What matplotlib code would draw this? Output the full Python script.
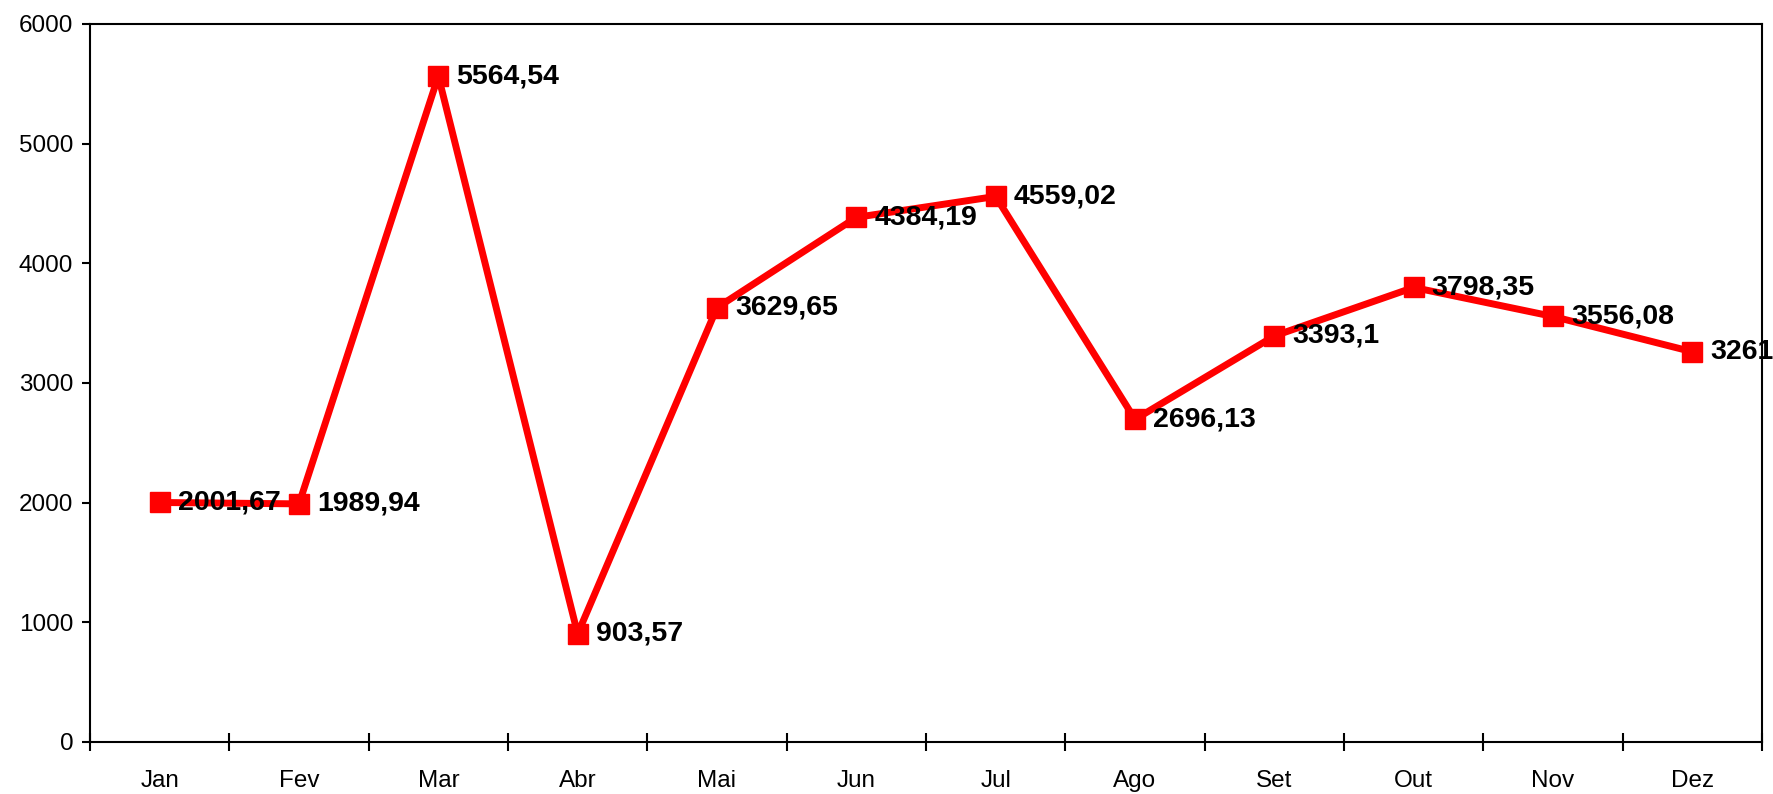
import matplotlib.pyplot as plt
import numpy as np

plt.rcParams['font.family'] = ['Liberation Sans', 'DejaVu Sans']

months = ['Jan', 'Fev', 'Mar', 'Abr', 'Mai', 'Jun', 'Jul', 'Ago', 'Set', 'Out', 'Nov', 'Dez']
values = [2001.67, 1989.94, 5564.54, 903.57, 3629.65, 4384.19, 4559.02, 2696.13, 3393.1, 3798.35, 3556.08, 3261]

def fmt(v):
    s = f"{v:.2f}".rstrip('0').rstrip('.')
    return s.replace('.', ',')

fig = plt.figure(figsize=(17.74, 7.94), dpi=100)
ax = fig.add_axes([90/1774, 1-742/794, 1672/1774, 718/794])

x = np.arange(len(months))
ax.plot(x, values, color='#ff0000', lw=5, marker='s', ms=14, mec='#ff0000', mfc='#ff0000')

# data labels right of each marker, clipped at the frame
for xi, v in zip(x, values):
    t = ax.annotate(fmt(v), (xi, v), xytext=(13, 0), textcoords='offset points',
                    va='center', ha='left', fontsize=20.5, fontweight='bold', color='black')
    t.set_clip_on(True)

ax.set_xlim(-0.5, len(months) - 0.5)
ax.set_ylim(0, 6000)
ax.set_yticks(np.arange(0, 6001, 1000))
ax.set_xticks(x)
ax.set_xticklabels(months)
ax.set_xticks(np.arange(-0.5, len(months)), minor=True)
ax.tick_params(axis='x', which='major', length=0, pad=20, labelsize=17.5)
ax.tick_params(axis='x', which='minor', direction='inout', length=13, width=1.5)
ax.tick_params(axis='y', direction='out', length=6, width=1.5, pad=6, labelsize=17.5)
for s in ax.spines.values():
    s.set_linewidth(1.5)

fig.savefig('out.png', dpi=100)
